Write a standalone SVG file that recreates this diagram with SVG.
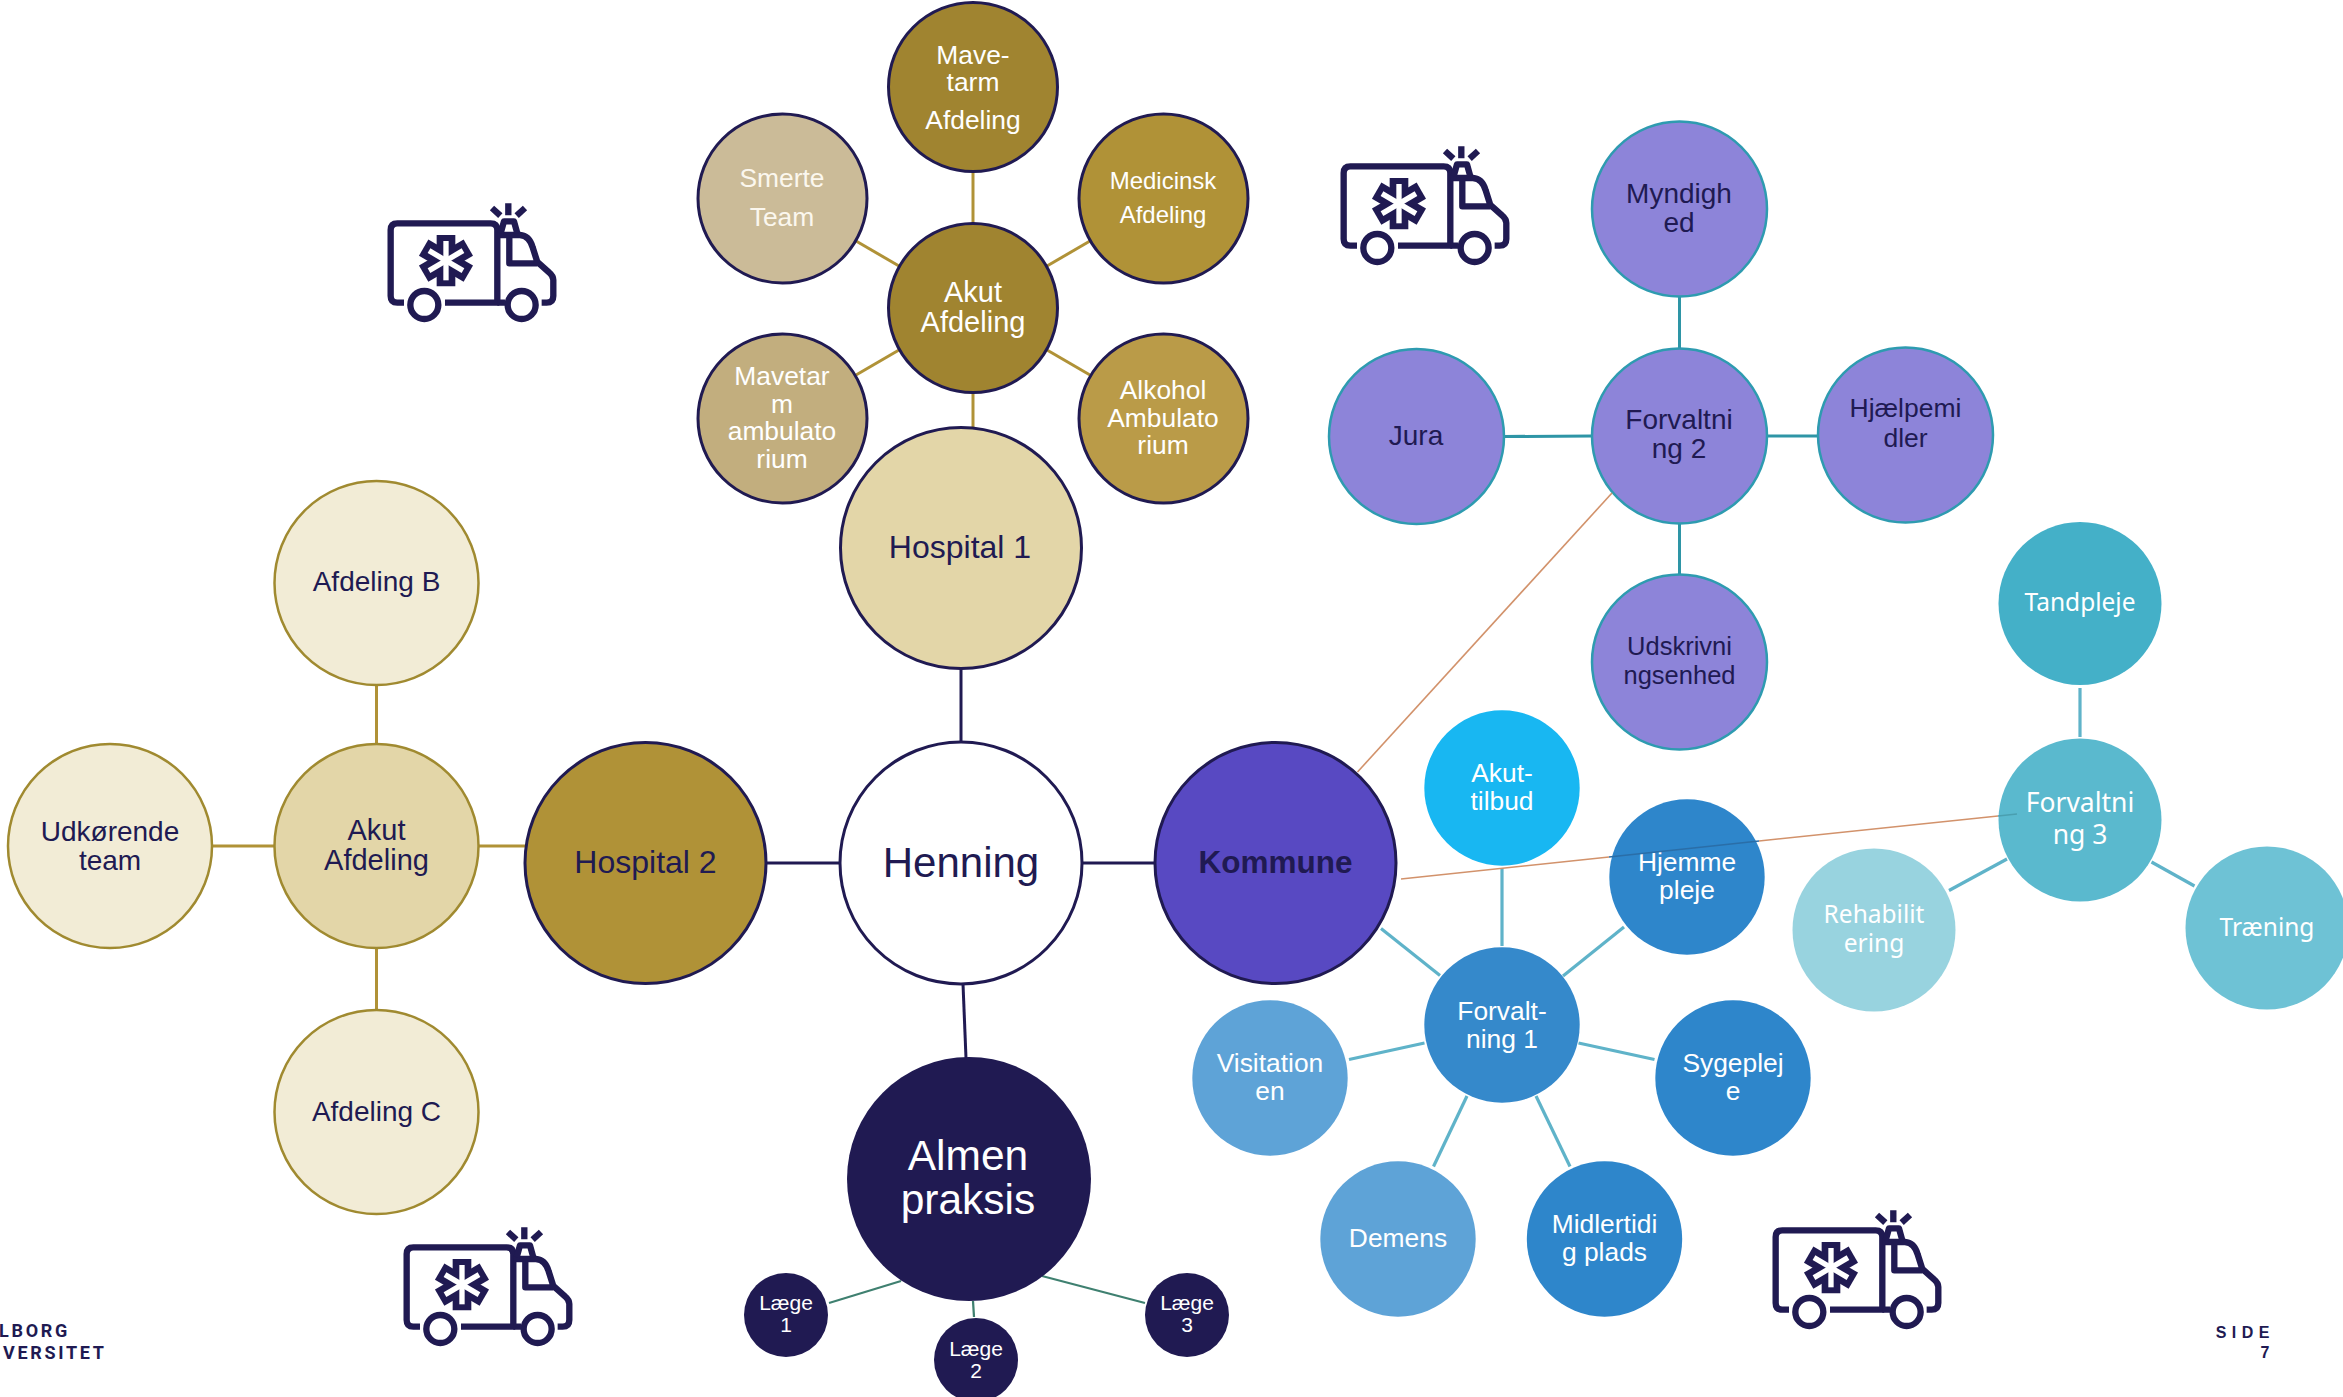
<svg xmlns="http://www.w3.org/2000/svg" width="2343" height="1397" viewBox="0 0 2343 1397">
<style>
text{font-family:"Liberation Sans",Arial,sans-serif;text-anchor:middle}
.w{fill:#fff}.n{fill:#201a52}
.s32{font-size:32px}.s29{font-size:29px}.s28{font-size:28px}.s26{font-size:26.4px}.s24{font-size:24px}.s21{font-size:21px}
.t{font-family:"Noto Sans",sans-serif;font-size:24.5px;fill:#fff}
.navy{stroke:#201a52;stroke-width:3}
.leaf{fill:#f2ecd6;stroke:#a08a30;stroke-width:2.5}
.pur{fill:#8d84d9;stroke:#2e9bb0;stroke-width:2.5}
.c line{fill:none}
.lg{stroke:#b09237;stroke-width:3}.lb{stroke:#201a52;stroke-width:3}.lp{stroke:#2e95a6;stroke-width:3}.lt{stroke:#5fb3c9;stroke-width:3.2}.lv{stroke:#3f8070;stroke-width:2.2}.lo{stroke:#d2926b;stroke-width:1.6}
.foot{font-family:Roboto,"Liberation Sans",sans-serif;font-weight:700;font-size:18px;letter-spacing:2.7px;fill:#201a52;text-anchor:start}
.side{font-weight:700;font-size:16px;fill:#201a52;text-anchor:end}
.ic{fill:none;stroke:#201a52;stroke-width:19;stroke-linejoin:round}
</style>
<defs>
<g id="amb" transform="translate(340 170) scale(.3333)">
<path class="ic" d="M192 398H172Q152 398 152 378V180Q152 160 172 160H452Q472 160 472 180V398H315"/>
<path class="ic" d="M472 398H495M472 195H540Q568 197 578 232L592 276L628 308Q640 318 640 330V378Q640 398 620 398H605M508 200V280H592"/>
<circle class="ic" cx="253" cy="405" r="42"/><circle class="ic" cx="545" cy="405" r="42"/>
<path class="ic" d="M482 190L492 154H522L532 190"/>
<path class="ic" d="M505 100V136M456 114L481 137M555 114L530 137"/>
<g stroke="#201a52" stroke-width="56"><line x1="318" y1="195" x2="318" y2="349"/><line x1="251" y1="233" x2="385" y2="311"/><line x1="251" y1="311" x2="385" y2="233"/></g>
<g stroke="#fff" stroke-width="16"><line x1="318" y1="213" x2="318" y2="331"/><line x1="267" y1="242" x2="369" y2="302"/><line x1="267" y1="302" x2="369" y2="242"/></g>
</g>
</defs>
<rect width="2343" height="1397" fill="#fff"/>
<g id="connectors" class="c">
<line class="lg" x1="973" y1="170" x2="973" y2="226"/>
<line class="lg" x1="856" y1="241" x2="899" y2="266"/>
<line class="lg" x1="1090" y1="241" x2="1047" y2="266"/>
<line class="lg" x1="856" y1="375" x2="899" y2="350"/>
<line class="lg" x1="1090" y1="375" x2="1047" y2="350"/>
<line class="lg" x1="973" y1="392" x2="973" y2="430"/>
<line class="lg" x1="376.500" y1="685" x2="376.500" y2="744"/>
<line class="lg" x1="376.500" y1="948" x2="376.500" y2="1010"/>
<line class="lg" x1="212" y1="846" x2="275" y2="846"/>
<line class="lg" x1="478" y1="846" x2="525" y2="846"/>
<line class="lb" x1="961" y1="669" x2="961" y2="742"/>
<line class="lb" x1="766" y1="863" x2="840" y2="863"/>
<line class="lb" x1="1082" y1="863" x2="1155" y2="863"/>
<line class="lb" x1="963" y1="984" x2="966" y2="1058"/>
<line class="lv" x1="829" y1="1303" x2="901" y2="1281"/>
<line class="lv" x1="973" y1="1301" x2="974" y2="1317"/>
<line class="lv" x1="1042" y1="1276" x2="1145" y2="1303"/>
<line class="lp" x1="1679.500" y1="297" x2="1679.500" y2="349"/>
<line class="lp" x1="1504" y1="436.500" x2="1592" y2="436"/>
<line class="lp" x1="1767" y1="436" x2="1818" y2="436"/>
<line class="lp" x1="1679.500" y1="524" x2="1679.500" y2="574"/>
<line class="lt" x1="1502" y1="868" x2="1502" y2="946"/>
<line class="lt" x1="1563" y1="976" x2="1624" y2="927"/>
<line class="lt" x1="1440" y1="975.500" x2="1381" y2="928.500"/>
<line class="lt" x1="1424.500" y1="1043" x2="1349" y2="1059.500"/>
<line class="lt" x1="1578.500" y1="1043" x2="1654.500" y2="1059.500"/>
<line class="lt" x1="1467" y1="1096" x2="1433.500" y2="1166.500"/>
<line class="lt" x1="1536" y1="1096" x2="1570" y2="1166.500"/>
<line class="lt" x1="2080" y1="688" x2="2080" y2="737"/>
<line class="lt" x1="2007" y1="859" x2="1949" y2="890.500"/>
<line class="lt" x1="2151.500" y1="862" x2="2194.500" y2="886"/>
</g>
<g id="n-henning"><circle cx="961" cy="863" r="121" fill="#fff" class="navy"/><text class="n" x="961" y="877" font-size="42">Henning</text></g>
<g id="n-hospital1"><circle cx="961" cy="548" r="120.500" fill="#e3d6a8" class="navy"/><text class="n s32" x="960" y="558">Hospital 1</text></g>
<g id="n-hospital2"><circle cx="645.500" cy="863" r="120.500" fill="#b09237" class="navy"/><text class="n s32" x="645.500" y="873">Hospital 2</text></g>
<g id="n-kommune"><circle cx="1275.500" cy="863" r="120.500" fill="#5849c2" class="navy"/><text class="n" x="1275.500" y="873" font-size="31.500" font-weight="700">Kommune</text></g>
<g id="n-almen"><circle cx="969" cy="1179" r="122" fill="#201a52"/><text class="w" x="968" y="1170" font-size="42.500">Almen</text><text class="w" x="968" y="1214" font-size="42.500">praksis</text></g>
<g id="n-akut-top"><circle cx="973" cy="308" r="84.500" fill="#a08430" class="navy"/><text class="w s29" x="973" y="302">Akut</text><text class="w s29" x="973" y="332">Afdeling</text></g>
<g id="n-mave"><circle cx="973" cy="87" r="84.500" fill="#a08430" class="navy"/><text class="w s26" x="973" y="64">Mave-</text><text class="w s26" x="973" y="91">tarm</text><text class="w s26" x="973" y="129">Afdeling</text></g>
<g id="n-smerte"><circle cx="782.500" cy="198.500" r="84.500" fill="#cbbb98" class="navy"/><text class="s26" fill="#fbf7ee" x="782" y="187">Smerte</text><text class="s26" fill="#fbf7ee" x="782" y="226">Team</text></g>
<g id="n-medicinsk"><circle cx="1163.500" cy="198.500" r="84.500" fill="#b09237" class="navy"/><text class="w s24" x="1163" y="189">Medicinsk</text><text class="w s24" x="1163" y="223">Afdeling</text></g>
<g id="n-mavetarm"><circle cx="782.500" cy="418.500" r="84.500" fill="#c2ae7e" class="navy"/><text class="w s26" x="782" y="385">Mavetar</text><text class="w s26" x="782" y="413">m</text><text class="w s26" x="782" y="440">ambulato</text><text class="w s26" x="782" y="468">rium</text></g>
<g id="n-alkohol"><circle cx="1163.500" cy="418.500" r="84.500" fill="#ba9b48" class="navy"/><text class="w s26" x="1163" y="399">Alkohol</text><text class="w s26" x="1163" y="427">Ambulato</text><text class="w s26" x="1163" y="454">rium</text></g>
<g id="n-akut-left"><circle cx="376.500" cy="846" r="102" fill="#e3d6a8" stroke="#a08a30" stroke-width="2.500"/><text class="n s29" x="376.500" y="840">Akut</text><text class="n s29" x="376.500" y="870">Afdeling</text></g>
<g id="n-afdb"><circle class="leaf" cx="376.500" cy="583" r="102"/><text class="n s28" x="376.500" y="591">Afdeling B</text></g>
<g id="n-afdc"><circle class="leaf" cx="376.500" cy="1112" r="102"/><text class="n s28" x="376.500" y="1121">Afdeling C</text></g>
<g id="n-udk"><circle class="leaf" cx="110" cy="846" r="102"/><text class="n s28" x="110" y="841">Udkørende</text><text class="n s28" x="110" y="870">team</text></g>
<g id="n-laege1"><circle cx="786" cy="1315" r="42" fill="#201a52"/><text class="w s21" x="786" y="1310">Læge</text><text class="w s21" x="786" y="1332">1</text></g>
<g id="n-laege2"><circle cx="976" cy="1360" r="42" fill="#201a52"/><text class="w s21" x="976" y="1356">Læge</text><text class="w s21" x="976" y="1378">2</text></g>
<g id="n-laege3"><circle cx="1187" cy="1315" r="42" fill="#201a52"/><text class="w s21" x="1187" y="1310">Læge</text><text class="w s21" x="1187" y="1332">3</text></g>
<g id="n-forv2"><circle class="pur" cx="1679.500" cy="436" r="87.500"/><text class="n s28" x="1679" y="429">Forvaltni</text><text class="n s28" x="1679" y="458">ng 2</text></g>
<g id="n-myn"><circle class="pur" cx="1679.500" cy="209" r="87.500"/><text class="n s28" x="1679" y="203">Myndigh</text><text class="n s28" x="1679" y="232">ed</text></g>
<g id="n-jura"><circle class="pur" cx="1416.500" cy="436.500" r="87.500"/><text class="n s28" x="1416" y="445">Jura</text></g>
<g id="n-hj"><circle class="pur" cx="1905.500" cy="435" r="87.500"/><text class="n" font-size="26.500" x="1905.500" y="417">Hjælpemi</text><text class="n" font-size="26.500" x="1905.500" y="447">dler</text></g>
<g id="n-uds"><circle class="pur" cx="1679.500" cy="662" r="87.500"/><text class="n" font-size="25.500" x="1679.500" y="655">Udskrivni</text><text class="n" font-size="25.500" x="1679.500" y="684">ngsenhed</text></g>
<g id="n-akuttilbud"><circle cx="1502" cy="788" r="77.700" fill="#18b7f2"/><text class="w s26" x="1502" y="782">Akut-</text><text class="w s26" x="1502" y="810">tilbud</text></g>
<g id="n-hjemme"><circle cx="1687" cy="877" r="77.700" fill="#2e86cb"/><text class="w s26" x="1687" y="871">Hjemme</text><text class="w s26" x="1687" y="899">pleje</text></g>
<g id="n-forv1"><circle cx="1502" cy="1025" r="77.700" fill="#3589cb"/><text class="w s26" x="1502" y="1020">Forvalt-</text><text class="w s26" x="1502" y="1048">ning 1</text></g>
<g id="n-vis"><circle cx="1270" cy="1078" r="77.700" fill="#5ea3d7"/><text class="w s26" x="1270" y="1072">Visitation</text><text class="w s26" x="1270" y="1100">en</text></g>
<g id="n-syg"><circle cx="1733" cy="1078" r="77.700" fill="#2e86cb"/><text class="w s26" x="1733" y="1072">Sygeplej</text><text class="w s26" x="1733" y="1100">e</text></g>
<g id="n-dem"><circle cx="1398" cy="1239" r="77.700" fill="#5ea3d7"/><text class="w s26" x="1398" y="1247">Demens</text></g>
<g id="n-mid"><circle cx="1604.500" cy="1239" r="77.700" fill="#2e86cb"/><text class="w s26" x="1604.500" y="1233">Midlertidi</text><text class="w s26" x="1604.500" y="1261">g plads</text></g>
<g id="n-tand"><circle cx="2080" cy="603.500" r="81.500" fill="#44b0c8"/><text class="t" x="2080" y="610.500">Tandpleje</text></g>
<g id="n-forv3"><circle cx="2080" cy="820" r="81.500" fill="#5ab9ce"/><text class="t" x="2080" y="812" style="font-size:26.500px">Forvaltni</text><text class="t" x="2080" y="844" style="font-size:26.500px">ng 3</text></g>
<g id="n-rehab"><circle cx="1874" cy="930" r="81.500" fill="#98d3df"/><text class="t" x="1874" y="922.500">Rehabilit</text><text class="t" x="1874" y="951.500">ering</text></g>
<g id="n-traening"><circle cx="2267" cy="928" r="81.500" fill="#6ec2d5"/><text class="t" x="2267" y="936">Træning</text></g>
<g id="cross-links" class="c">
<line class="lo" x1="1357.500" y1="772" x2="1612" y2="493"/>
<line class="lo" x1="1401" y1="879" x2="1609" y2="857"/>
<line x1="1609" y1="857" x2="1759" y2="841" stroke="#2a6ea8" stroke-width="1.600"/>
<line class="lo" x1="1759" y1="841" x2="1998" y2="816"/>
<line x1="1998" y1="816" x2="2017" y2="814" stroke="#4a9fb0" stroke-width="1.600"/>
</g>
<g id="icon-ambulance-1"><use href="#amb"/></g>
<g id="icon-ambulance-2"><use href="#amb" x="953" y="-57"/></g>
<g id="icon-ambulance-3"><use href="#amb" x="16" y="1024"/></g>
<g id="icon-ambulance-4"><use href="#amb" x="1385" y="1007"/></g>
<g id="footer">
<text class="foot" x="-1" y="1337">LBORG</text>
<text class="foot" x="3" y="1359">VERSITET</text>
<text class="side" x="2275" y="1338" letter-spacing="5.500">SIDE</text>
<text class="side" x="2269.500" y="1358">7</text>
</g>
</svg>
